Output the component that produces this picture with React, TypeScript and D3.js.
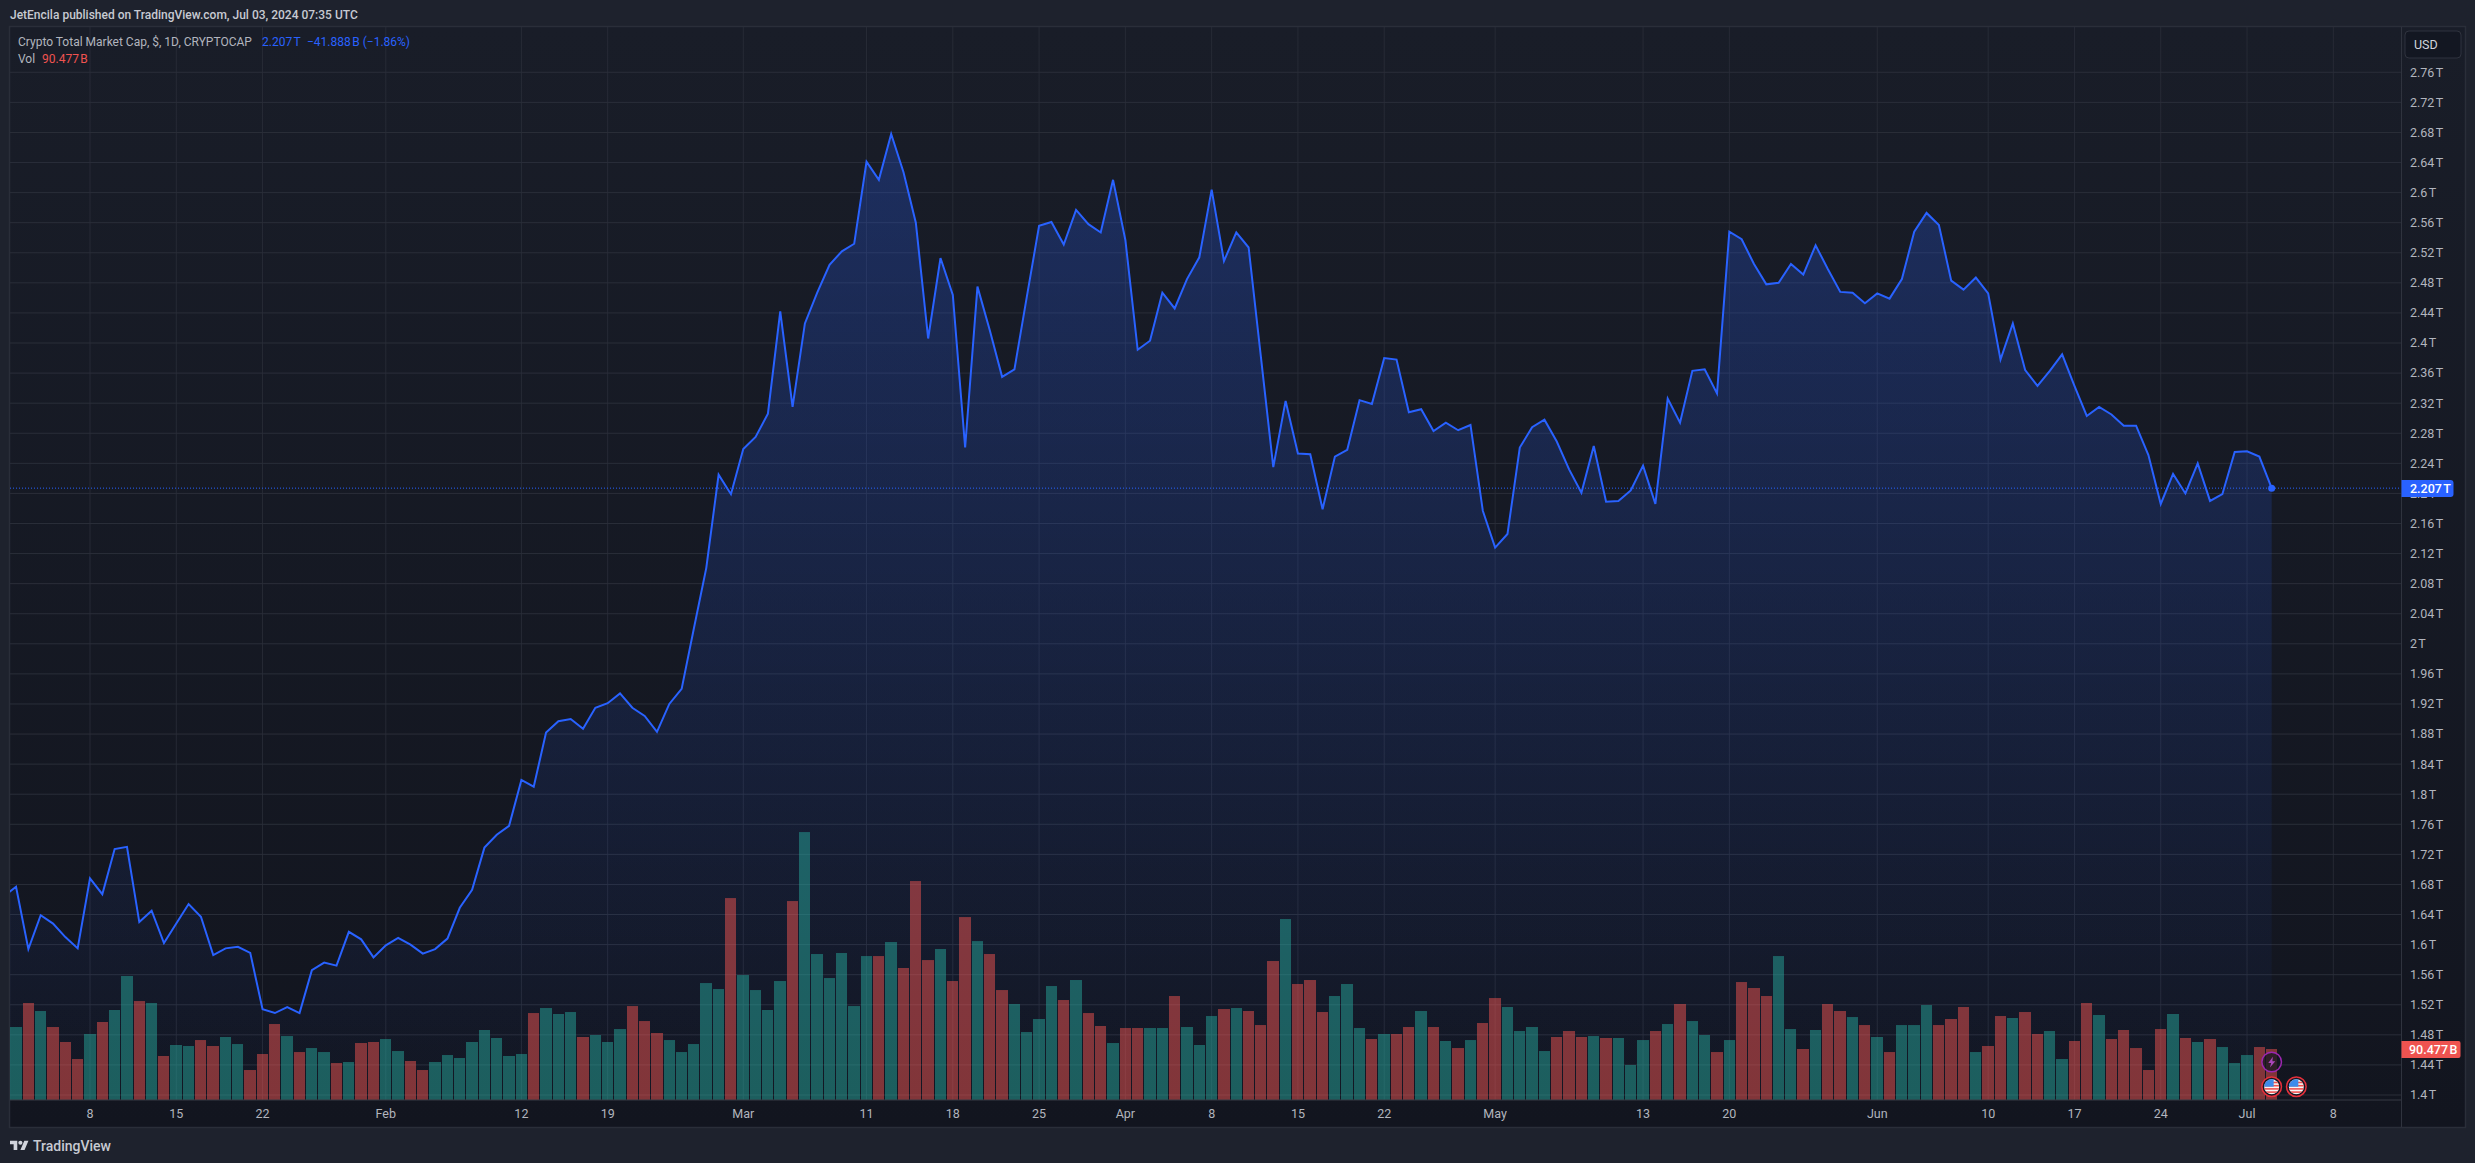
import React from 'react';
import * as d3 from 'd3';

const WIDTH = 2475;
const HEIGHT = 1163;
const FONT = 'Roboto, sans-serif';

const titleText = 'JetEncila published on TradingView.com, Jul 03, 2024 07:35 UTC';
const symbolText = 'Crypto Total Market Cap, $, 1D, CRYPTOCAP';
const lastChangeText = '\u221241.888\u202fB (\u22121.86%)';

const priceTicks = [
  1.4, 1.44, 1.48, 1.52, 1.56, 1.6, 1.64, 1.68, 1.72, 1.76, 1.8, 1.84, 1.88, 1.92, 1.96, 2, 2.04, 2.08,
  2.12, 2.16, 2.2, 2.24, 2.28, 2.32, 2.36, 2.4, 2.44, 2.48, 2.52, 2.56, 2.6, 2.64, 2.68, 2.72, 2.76,
];

const timeTicks: [string, number, number][] = [
  ['8', 0, 8], ['15', 0, 15], ['22', 0, 22], ['Feb', 1, 1], ['12', 1, 12], ['19', 1, 19],
  ['Mar', 2, 1], ['11', 2, 11], ['18', 2, 18], ['25', 2, 25], ['Apr', 3, 1], ['8', 3, 8],
  ['15', 3, 15], ['22', 3, 22], ['May', 4, 1], ['13', 4, 13], ['20', 4, 20], ['Jun', 5, 1],
  ['10', 5, 10], ['17', 5, 17], ['24', 5, 24], ['Jul', 6, 1], ['8', 6, 8],
];

// total market cap in trillions, one close per day from Jan 1
const closes = [
  1.664, 1.677, 1.594, 1.639, 1.628, 1.61, 1.595, 1.688, 1.667, 1.727, 1.73, 1.63, 1.645, 1.602, 1.628, 1.654,
  1.637, 1.586, 1.595, 1.597, 1.589, 1.514, 1.509, 1.517, 1.509, 1.566, 1.576, 1.572, 1.617, 1.607, 1.583,
  // feb
  1.599, 1.609, 1.6, 1.588, 1.594, 1.608, 1.649, 1.673, 1.729, 1.746, 1.758, 1.819, 1.81, 1.882, 1.897,
  1.9, 1.887, 1.915, 1.921, 1.934, 1.915, 1.904, 1.883, 1.92, 1.94, 2.021, 2.101, 2.225, 2.199,
  // mar
  2.259, 2.275, 2.306, 2.442, 2.315, 2.426, 2.467, 2.504, 2.522, 2.532, 2.641, 2.617, 2.678, 2.627, 2.56, 2.406,
  2.513, 2.464, 2.261, 2.475, 2.417, 2.355, 2.365, 2.461, 2.556, 2.561, 2.531, 2.577, 2.558, 2.547, 2.617,
  // apr
  2.537, 2.391, 2.403, 2.467, 2.446, 2.485, 2.514, 2.604, 2.509, 2.547, 2.527, 2.381, 2.235, 2.323, 2.253,
  2.252, 2.179, 2.249, 2.258, 2.324, 2.319, 2.38, 2.378, 2.308, 2.312, 2.283, 2.294, 2.284, 2.291, 2.177,
  // may
  2.128, 2.146, 2.261, 2.288, 2.298, 2.269, 2.232, 2.201, 2.263, 2.189, 2.19, 2.204, 2.237, 2.186, 2.326, 2.294,
  2.363, 2.365, 2.333, 2.548, 2.538, 2.505, 2.478, 2.48, 2.505, 2.491, 2.53, 2.498, 2.468, 2.467, 2.453,
  // jun
  2.466, 2.459, 2.485, 2.548, 2.573, 2.557, 2.483, 2.471, 2.487, 2.466, 2.378, 2.426, 2.364, 2.343, 2.363,
  2.385, 2.343, 2.303, 2.315, 2.305, 2.29, 2.29, 2.251, 2.186, 2.226, 2.2, 2.24, 2.19, 2.199, 2.255,
  // jul
  2.256, 2.249, 2.207,
];

// volume in billions, from Jan 2 (Jan 1 falls off the left edge)
const volumes = [
  129.5, 172.1, 157.9, 129.5, 102.9, 72.7, 117.1, 138.4, 159.7, 220, 175.6, 172.1, 78.1, 97.6, 95.8, 106.4, 95.8,
  111.8, 99.3, 53.2, 81.6, 134.8, 113.5, 85.1, 92.2, 85.1, 65.6, 67.4, 101.1, 102.9,
  // feb
  108.2, 86.9, 69.2, 53.2, 67.4, 79.8, 74.5, 102.9, 124.2, 110, 78.1, 81.6, 154.3, 163.2, 152.6, 156.1, 111.8,
  115.3, 102.9, 125.9, 166.7, 140.1, 118.9, 106.4, 85.1, 99.3, 207.5, 196.9, 358.3,
  // mar
  221.7, 195.1, 159.7, 211.1, 353, 475.4, 259, 216.4, 260.8, 166.7, 255.4, 255.4, 280.3, 234.2, 388.5, 248.3,
  267.9, 211.1, 324.6, 282, 259, 195.1, 170.3, 120.6, 143.7, 202.2, 177.4, 212.9, 154.3, 131.3, 101.1,
  // apr
  127.7, 127.7, 127.7, 127.7, 184.5, 129.5, 97.6, 149, 161.4, 163.2, 157.9, 133, 246.6, 321.1, 205.8, 212.9,
  156.1, 184.5, 205.8, 127.7, 108.2, 117.1, 117.1, 129.5, 157.9, 129.5, 104.7, 92.2, 106.4, 136.6,
  // may
  180.9, 165, 122.4, 129.5, 86.9, 111.8, 122.4, 111.8, 113.5, 110, 110, 62.1, 106.4, 122.4, 134.8, 170.3, 140.1,
  115.3, 85.1, 106.4, 209.3, 198.7, 184.5, 255.4, 125.9, 90.5, 124.2, 170.3, 157.9, 147.2, 133,
  // jun
  111.8, 85.1, 133, 133, 168.5, 133, 143.7, 165, 85.1, 95.8, 149, 145.5, 156.1, 117.1, 122.4, 72.7, 104.7, 172.1,
  150.8, 108.2, 124.2, 92.2, 53.2, 125.9, 152.6, 110, 102.9, 108.2, 94, 65.6,
  // jul
  79.8, 94, 90.477,
];

// 1 = up day (teal volume bar), 0 = down day (red)
const volumeUp = [
  1, 0, 1, 0, 0, 0, 1, 0, 1, 1, 0, 1, 0, 1, 1, 0, 0, 1, 1, 0, 0, 0, 1, 0, 1, 1, 0, 1, 0, 0,
  1, 1, 0, 0, 1, 1, 1, 1, 1, 1, 1, 1, 0, 1, 1, 1, 0, 1, 1, 1, 0, 0, 0, 1, 1, 1, 1, 1, 0,
  1, 1, 1, 1, 0, 1, 1, 1, 1, 1, 1, 0, 1, 0, 0, 0, 1, 0, 0, 1, 0, 0, 1, 1, 1, 1, 0, 1, 0, 0, 1,
  0, 0, 1, 1, 0, 1, 1, 1, 0, 1, 0, 0, 0, 1, 0, 0, 0, 1, 1, 1, 0, 1, 0, 0, 1, 0, 1, 0, 1, 0,
  0, 1, 1, 1, 1, 0, 0, 0, 1, 0, 1, 1, 1, 0, 1, 0, 1, 1, 0, 1, 0, 0, 0, 1, 1, 0, 1, 0, 0, 1, 0,
  1, 0, 1, 1, 1, 0, 0, 0, 1, 0, 0, 1, 0, 0, 1, 1, 0, 0, 1, 0, 0, 0, 0, 0, 1, 0, 1, 0, 1, 1,
  1, 0, 0,
];

const utc = (m: number, d: number) => new Date(Date.UTC(2024, m, d));
const days = d3.utcDay.range(utc(0, 1), utc(6, 4));
const lastPrice = closes[closes.length - 1];
const lastVolume = volumes[volumes.length - 1];

const pane = { left: 10, right: 2401.5, top: 27, bottom: 1100, outerRight: 2465, outerBottom: 1127 };
const gridColor = '#2a2e39';
const blue = '#2962ff';
const red = '#ef5350';
const teal = '#26a69a';
const labelColor = '#b2b5be';

const x = d3.scaleUtc([utc(0, 8), utc(6, 8)], [90, 2333.3]);
const y = d3.scaleLinear([1.4, 2.76], [1095, 72.3]);
const yVol = d3.scaleLinear([0, 500], [pane.bottom, 818.2]);

const fmtPrice = (v: number) => `${+v.toFixed(2)}\u202fT`;

const priceLine = d3.line<number>((_, i) => x(days[i]), (d) => y(d));
const priceArea = d3.area<number>((_, i) => x(days[i]), pane.bottom, (d) => y(d));

// bar edges snap to whole pixels and keep a 1px gap, so widths alternate a little
const barLeft = (i: number) => Math.round(x(days[i + 1]) - 5.8);
const barWidth = (i: number) => barLeft(i + 1) - barLeft(i) - 1;

function UsFlag({ cx, cy, id }: { cx: number; cy: number; id: string }) {
  const stripes = [-5, -1.8, 1.4, 4.6];
  return (
    <g transform={`translate(${cx},${cy})`}>
      <clipPath id={id}>
        <circle r={7.5} />
      </clipPath>
      <circle r={9.8} fill="#131722" stroke="#e5303b" strokeWidth={1.5} />
      <g clipPath={`url(#${id})`}>
        <rect x={-8} y={-8} width={16} height={16} fill="#f5f5f5" />
        {stripes.map((s) => (
          <rect key={s} x={-8} y={s} width={16} height={1.6} fill={red} />
        ))}
        <rect x={-8} y={-8} width={10} height={8} fill="#3d8bea" />
      </g>
    </g>
  );
}

export default function App() {
  const lastX = x(days[days.length - 1]);
  return (
    <svg
      width={WIDTH}
      height={HEIGHT}
      viewBox={`0 0 ${WIDTH} ${HEIGHT}`}
      style={{ position: 'absolute', left: 0, top: 0, display: 'block', fontFamily: FONT }}
    >
      <defs>
        <linearGradient id="paneBg" x1="0" y1="0" x2="0" y2="1">
          <stop offset="0" stopColor="#191d28" />
          <stop offset="1" stopColor="#12151f" />
        </linearGradient>
        <linearGradient id="areaFill" gradientUnits="userSpaceOnUse" x1="0" y1={y(d3.max(closes)!)} x2="0" y2={pane.bottom}>
          <stop offset="0" stopColor={blue} stopOpacity={0.26} />
          <stop offset="1" stopColor={blue} stopOpacity={0.015} />
        </linearGradient>
        <clipPath id="plot">
          <rect x={pane.left} y={pane.top} width={pane.right - pane.left} height={pane.bottom - pane.top} />
        </clipPath>
      </defs>

      <rect width={WIDTH} height={HEIGHT} fill="#1e222d" />
      <rect
        x={pane.left - 0.5}
        y={pane.top - 0.5}
        width={pane.outerRight - pane.left + 1}
        height={pane.outerBottom - pane.top + 1}
        fill="url(#paneBg)"
        stroke={gridColor}
        strokeWidth={1.5}
      />

      {/* grid */}
      <g stroke={gridColor} strokeWidth={1}>
        {priceTicks.map((t) => (
          <line key={t} x1={pane.left} x2={pane.right} y1={y(t)} y2={y(t)} />
        ))}
        {timeTicks.map(([label, m, d]) => (
          <line key={`${label}${m}`} x1={x(utc(m, d))} x2={x(utc(m, d))} y1={pane.top} y2={pane.bottom} strokeOpacity={0.8} />
        ))}
      </g>

      <g clipPath="url(#plot)">
        <path d={priceArea(closes)!} fill="url(#areaFill)" />
        {volumes.map((v, i) => (
          <rect
            key={i}
            x={barLeft(i)}
            y={yVol(v)}
            width={i < volumes.length - 1 ? barWidth(i) : 11}
            height={pane.bottom - yVol(v)}
            fill={volumeUp[i] ? teal : red}
            fillOpacity={0.5}
          />
        ))}
        <line
          x1={pane.left}
          x2={pane.right}
          y1={y(lastPrice)}
          y2={y(lastPrice)}
          stroke={blue}
          strokeWidth={1}
          strokeDasharray="1 2"
        />
        <path d={priceLine(closes)!} fill="none" stroke={blue} strokeWidth={2} strokeLinejoin="miter" />
      </g>
      <circle cx={lastX} cy={y(lastPrice)} r={3.5} fill={blue} />

      {/* axis frames */}
      <line x1={pane.left} x2={pane.right} y1={pane.bottom} y2={pane.bottom} stroke="#363a45" strokeWidth={1} />
      <line x1={pane.right} x2={pane.right} y1={pane.top} y2={pane.outerBottom} stroke="#2f333e" strokeWidth={1} />

      {/* price axis */}
      <g fontSize={12.5} fill={labelColor}>
        {priceTicks.map((t) => (
          <text key={t} x={2410} y={y(t)} dy="0.35em">
            {fmtPrice(t)}
          </text>
        ))}
      </g>

      {/* time axis */}
      <g fontSize={12.5} fill={labelColor} textAnchor="middle">
        {timeTicks.map(([label, m, d]) => (
          <text key={`${label}${m}`} x={x(utc(m, d))} y={1113.5} dy="0.35em">
            {label}
          </text>
        ))}
      </g>

      {/* currency button */}
      <rect x={2405} y={31} width={56} height={27} rx={4} fill="#131722" stroke="#2f333e" strokeWidth={1} />
      <text x={2414} y={44.5} dy="0.35em" fontSize={12.5} fill="#d1d4dc">
        USD
      </text>

      {/* last value tags */}
      <path d={`M${pane.right} 480h49q3 0 3 3v11q0 3 -3 3h-49z`} fill={blue} />
      <text x={2410} y={y(lastPrice)} dy="0.35em" fontSize={12.5} fontWeight={500} fill="#fff">
        {`2.207\u202fT`}
      </text>
      <path d={`M${pane.right} 1041h57q2 0 2 2v13q0 2 -2 2h-57z`} fill={red} />
      <text x={2409} y={1049.5} dy="0.35em" fontSize={12.5} fontWeight={500} fill="#fff">
        {`${lastVolume.toFixed(3)}\u202fB`}
      </text>

      {/* events */}
      <g transform={`translate(${lastX},1062)`}>
        <circle r={9.8} fill="#131722" fillOpacity={0.75} stroke="#9c27b0" strokeWidth={1.5} />
        <path d="M1.2 -5.2L-3.4 1h2.9l-1.2 4.6L3.6 -.8H.7z" fill="#ab47bc" />
      </g>
      <UsFlag cx={lastX} cy={1086.7} id="flagA" />
      <UsFlag cx={x(utc(6, 5))} cy={1086.7} id="flagB" />

      {/* header and legend */}
      <text x={10} y={15} dy="0.35em" fontSize={12} fontWeight={500} fill="#c7cad2">
        {titleText}
      </text>
      <g fontSize={12}>
        <text x={18} y={42} dy="0.35em" fill={labelColor}>
          {symbolText}
        </text>
        <text x={262} y={42} dy="0.35em" fill={blue}>
          {`2.207\u202fT`}
        </text>
        <text x={307} y={42} dy="0.35em" fill={blue}>
          {lastChangeText}
        </text>
        <text x={18} y={59} dy="0.35em" fill={labelColor}>
          Vol
        </text>
        <text x={42} y={59} dy="0.35em" fill={red}>
          {`${lastVolume.toFixed(3)}\u202fB`}
        </text>
      </g>

      {/* footer logo */}
      <g transform="translate(10,1138.6) scale(0.52)" fill="#d1d4dc">
        <path d="M14 22H7V11H0V4h14v18zM28 22h-8l7.5-18h8L28 22z" />
        <circle cx={20} cy={8} r={4} />
      </g>
      <text x={33} y={1146} dy="0.35em" fontSize={14} fontWeight={500} fill="#c7cad2">
        TradingView
      </text>
    </svg>
  );
}
